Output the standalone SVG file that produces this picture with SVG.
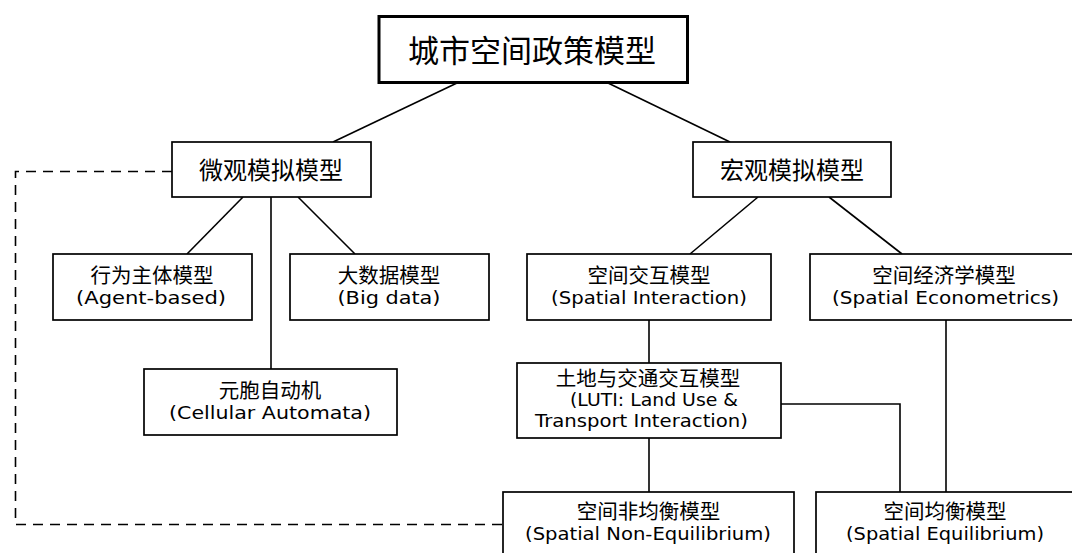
<svg xmlns="http://www.w3.org/2000/svg" width="1072" height="553" viewBox="0 0 1072 553">
<style>
.box{fill:#fff;stroke:#000;stroke-width:1.7}
.title{fill:#fff;stroke:#000;stroke-width:3}
.ln{fill:none;stroke:#000;stroke-width:1.6}
.dash{fill:none;stroke:#000;stroke-width:1.6;stroke-dasharray:10 7}
.cn{font-family:"Noto Sans CJK SC",sans-serif;text-anchor:middle;fill:#000}
.s{font-size:20.5px}
.m{font-size:24px}
.en{font-family:"DejaVu Sans","Noto Sans CJK SC",sans-serif;font-size:17.5px;text-anchor:middle;fill:#000}
</style>
<rect width="1072" height="553" fill="#fff"/>
<g id="connectors">
<line class="ln" x1="457" y1="83" x2="333" y2="142"/>
<line class="ln" x1="608" y1="83" x2="730" y2="142"/>
<line class="ln" x1="243" y1="197" x2="187" y2="254"/>
<line class="ln" x1="298" y1="197" x2="355" y2="254"/>
<line class="ln" x1="271" y1="197" x2="271" y2="369"/>
<line class="ln" x1="758" y1="197" x2="690" y2="254"/>
<line class="ln" x1="829" y1="197" x2="902" y2="254"/>
<line class="ln" x1="649" y1="320" x2="649" y2="363"/>
<line class="ln" x1="649" y1="438" x2="649" y2="492"/>
<polyline class="ln" points="781,404 900,404 900,492"/>
<line class="ln" x1="946" y1="320" x2="946" y2="492"/>
<polyline class="dash" points="172,171.5 15.5,171.5 15.5,524.5 503,524.5"/>
</g>
<g id="root">
<rect class="title" x="379" y="16.5" width="308.5" height="66"/>
<text class="cn" x="532" y="61.5" font-size="31">城市空间政策模型</text>
</g>
<g id="micro">
<rect class="box" x="172" y="142" width="199" height="55"/>
<text class="cn m" x="271" y="178.8">微观模拟模型</text>
</g>
<g id="macro">
<rect class="box" x="693" y="142" width="198" height="55"/>
<text class="cn m" x="792" y="178.8">宏观模拟模型</text>
</g>
<g id="agent">
<rect class="box" x="53" y="254" width="199" height="66"/>
<text class="cn s" x="152" y="283">行为主体模型</text>
<text class="en" x="151" y="303.5" textLength="150" lengthAdjust="spacingAndGlyphs">(Agent-based)</text>
</g>
<g id="bigdata">
<rect class="box" x="290" y="254" width="199" height="66"/>
<text class="cn s" x="389" y="283">大数据模型</text>
<text class="en" x="389" y="303.5" textLength="103" lengthAdjust="spacingAndGlyphs">(Big data)</text>
</g>
<g id="cellular">
<rect class="box" x="144" y="369" width="253" height="66"/>
<text class="cn s" x="270" y="398">元胞自动机</text>
<text class="en" x="270" y="418.5" textLength="202" lengthAdjust="spacingAndGlyphs">(Cellular Automata)</text>
</g>
<g id="spatial-interaction">
<rect class="box" x="527" y="254" width="244" height="66"/>
<text class="cn s" x="649" y="283">空间交互模型</text>
<text class="en" x="649" y="303.5" textLength="196" lengthAdjust="spacingAndGlyphs">(Spatial Interaction)</text>
</g>
<g id="spatial-econometrics">
<rect class="box" x="810" y="254" width="272" height="66"/>
<text class="cn s" x="944" y="283">空间经济学模型</text>
<text class="en" x="945.5" y="303.5" textLength="227" lengthAdjust="spacingAndGlyphs">(Spatial Econometrics)</text>
</g>
<g id="luti">
<rect class="box" x="517" y="363" width="264" height="75"/>
<text class="cn s" x="648" y="385.5">土地与交通交互模型</text>
<text class="en" x="654" y="406" textLength="168" lengthAdjust="spacingAndGlyphs">(LUTI: Land Use &amp;</text>
<text class="en" x="641.5" y="427" textLength="213" lengthAdjust="spacingAndGlyphs">Transport Interaction)</text>
</g>
<g id="non-equilibrium">
<rect class="box" x="503" y="492" width="291" height="80"/>
<text class="cn s" x="648.5" y="519">空间非均衡模型</text>
<text class="en" x="648" y="539.5" textLength="246" lengthAdjust="spacingAndGlyphs">(Spatial Non-Equilibrium)</text>
</g>
<g id="equilibrium">
<rect class="box" x="816" y="492" width="270" height="80"/>
<text class="cn s" x="945" y="519">空间均衡模型</text>
<text class="en" x="945" y="539.5" textLength="198" lengthAdjust="spacingAndGlyphs">(Spatial Equilibrium)</text>
</g>
</svg>
